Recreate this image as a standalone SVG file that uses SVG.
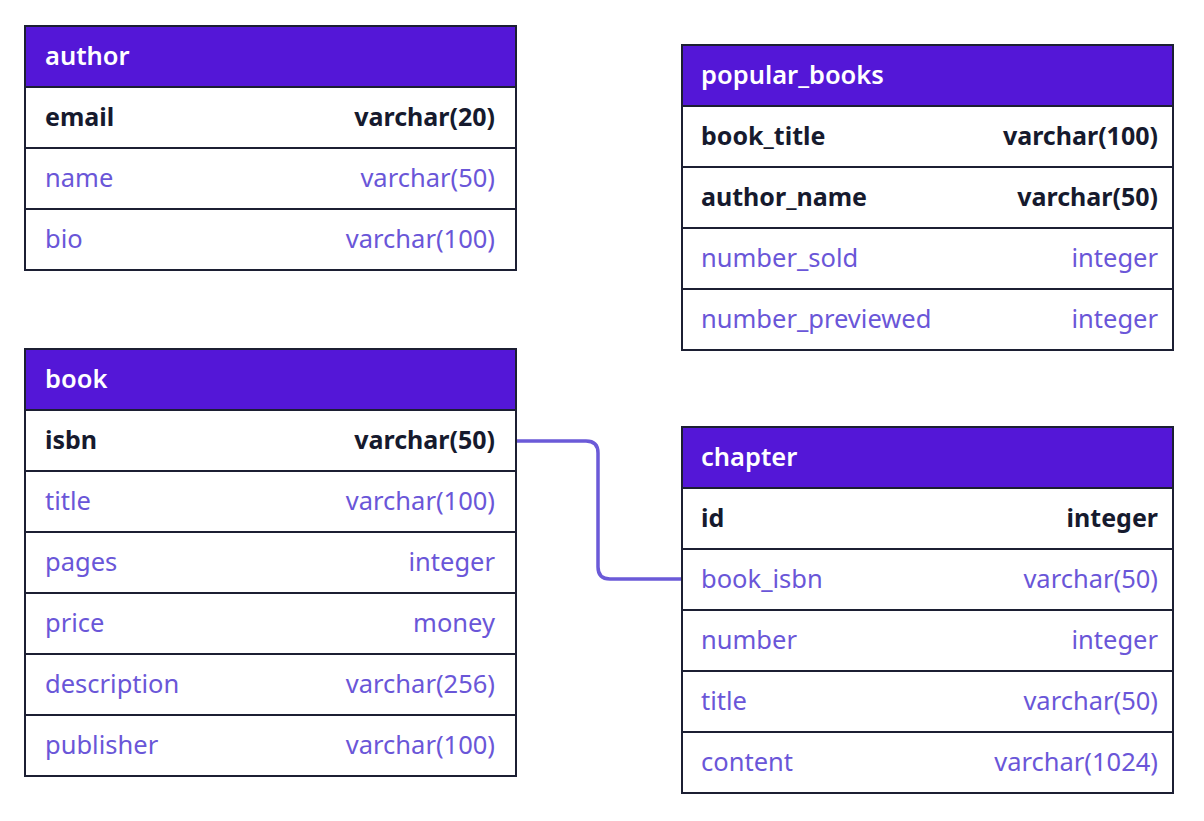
<svg xmlns="http://www.w3.org/2000/svg" width="1204" height="821" viewBox="0 0 1204 821">
<style>
.hd{fill:#5417d7}
.bx{fill:#ffffff;stroke:#1c1f33;stroke-width:2}
.ln{stroke:#1c1f33;stroke-width:2}
text{font-family:"Noto Sans","Open Sans",sans-serif;font-size:25.5px}
.ht{fill:#ffffff;font-weight:600}
.k{fill:#161a2e;font-weight:700;font-size:25px}
.f{fill:#6a56d8}
.r{text-anchor:end}
.cn{fill:none;stroke:#6b5ad8;stroke-width:3.5}
</style>
<rect width="1204" height="821" fill="#ffffff"/>
<g id="connectors">
<path class="cn" d="M516,441 H586 Q598,441 598,453 V567 Q598,579 610,579 H682"/>
</g>
<g id="author">
<rect class="bx" x="25" y="26" width="491" height="244"/>
<rect class="hd" x="26" y="27" width="489" height="60"/>
<line class="ln" x1="25" y1="87" x2="516" y2="87"/>
<line class="ln" x1="25" y1="148" x2="516" y2="148"/>
<line class="ln" x1="25" y1="209" x2="516" y2="209"/>
<text class="ht" x="45" y="65">author</text>
<text class="k" x="45" y="126">email</text><text class="k r" x="495" y="126">varchar(20)</text>
<text class="f" x="45" y="187">name</text><text class="f r" x="495" y="187">varchar(50)</text>
<text class="f" x="45" y="248">bio</text><text class="f r" x="495" y="248">varchar(100)</text>
</g>
<g id="popular_books">
<rect class="bx" x="682" y="45" width="491" height="305"/>
<rect class="hd" x="683" y="46" width="489" height="60"/>
<line class="ln" x1="682" y1="106" x2="1173" y2="106"/>
<line class="ln" x1="682" y1="167" x2="1173" y2="167"/>
<line class="ln" x1="682" y1="228" x2="1173" y2="228"/>
<line class="ln" x1="682" y1="289" x2="1173" y2="289"/>
<text class="ht" x="701" y="84">popular_books</text>
<text class="k" x="701" y="145">book_title</text><text class="k r" x="1158" y="145">varchar(100)</text>
<text class="k" x="701" y="206">author_name</text><text class="k r" x="1158" y="206">varchar(50)</text>
<text class="f" x="701" y="267">number_sold</text><text class="f r" x="1158" y="267">integer</text>
<text class="f" x="701" y="328">number_previewed</text><text class="f r" x="1158" y="328">integer</text>
</g>
<g id="book">
<rect class="bx" x="25" y="349" width="491" height="427"/>
<rect class="hd" x="26" y="350" width="489" height="60"/>
<line class="ln" x1="25" y1="410" x2="516" y2="410"/>
<line class="ln" x1="25" y1="471" x2="516" y2="471"/>
<line class="ln" x1="25" y1="532" x2="516" y2="532"/>
<line class="ln" x1="25" y1="593" x2="516" y2="593"/>
<line class="ln" x1="25" y1="654" x2="516" y2="654"/>
<line class="ln" x1="25" y1="715" x2="516" y2="715"/>
<text class="ht" x="45" y="388">book</text>
<text class="k" x="45" y="449">isbn</text><text class="k r" x="495" y="449">varchar(50)</text>
<text class="f" x="45" y="510">title</text><text class="f r" x="495" y="510">varchar(100)</text>
<text class="f" x="45" y="571">pages</text><text class="f r" x="495" y="571">integer</text>
<text class="f" x="45" y="632">price</text><text class="f r" x="495" y="632">money</text>
<text class="f" x="45" y="693">description</text><text class="f r" x="495" y="693">varchar(256)</text>
<text class="f" x="45" y="754">publisher</text><text class="f r" x="495" y="754">varchar(100)</text>
</g>
<g id="chapter">
<rect class="bx" x="682" y="427" width="491" height="366"/>
<rect class="hd" x="683" y="428" width="489" height="60"/>
<line class="ln" x1="682" y1="488" x2="1173" y2="488"/>
<line class="ln" x1="682" y1="549" x2="1173" y2="549"/>
<line class="ln" x1="682" y1="610" x2="1173" y2="610"/>
<line class="ln" x1="682" y1="671" x2="1173" y2="671"/>
<line class="ln" x1="682" y1="732" x2="1173" y2="732"/>
<text class="ht" x="701" y="466">chapter</text>
<text class="k" x="701" y="527">id</text><text class="k r" x="1158" y="527">integer</text>
<text class="f" x="701" y="588">book_isbn</text><text class="f r" x="1158" y="588">varchar(50)</text>
<text class="f" x="701" y="649">number</text><text class="f r" x="1158" y="649">integer</text>
<text class="f" x="701" y="710">title</text><text class="f r" x="1158" y="710">varchar(50)</text>
<text class="f" x="701" y="771">content</text><text class="f r" x="1158" y="771">varchar(1024)</text>
</g>
</svg>
